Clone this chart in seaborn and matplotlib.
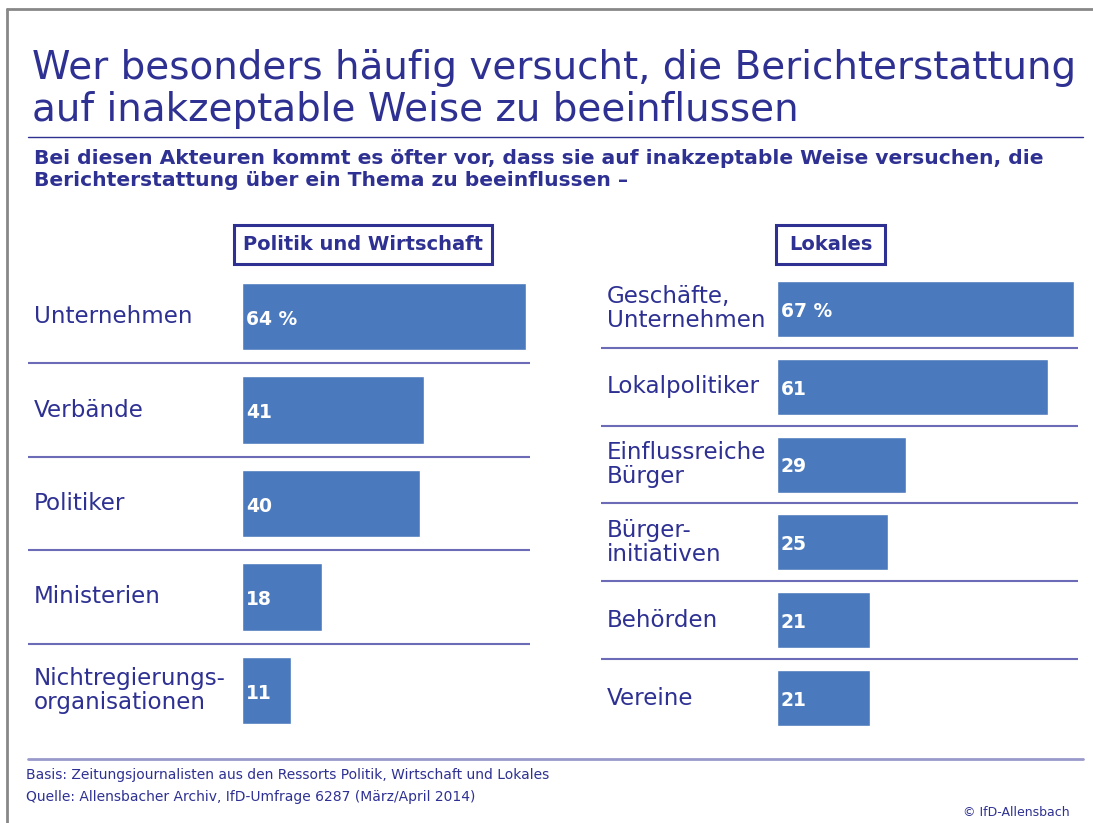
import matplotlib
matplotlib.use("Agg")
import matplotlib.pyplot as plt
import seaborn as sns
import pandas as pd
from matplotlib.patches import Rectangle
from matplotlib.lines import Line2D

# Daten
links_kat = ["Unternehmen", "Verbände", "Politiker", "Ministerien",
             "Nichtregierungs-\norganisationen"]
links_wert = [64, 41, 40, 18, 11]

rechts_kat = ["Geschäfte,\nUnternehmen", "Lokalpolitiker", "Einflussreiche\nBürger",
              "Bürger-\ninitiativen", "Behörden", "Vereine"]
rechts_wert = [67, 61, 29, 25, 21, 21]

titel = "Wer besonders häufig versucht, die Berichterstattung\nauf inakzeptable Weise zu beeinflussen"
untertitel = ("Bei diesen Akteuren kommt es öfter vor, dass sie auf inakzeptable Weise versuchen, die\n"
              "Berichterstattung über ein Thema zu beeinflussen –")
fuss1 = "Basis: Zeitungsjournalisten aus den Ressorts Politik, Wirtschaft und Lokales"
fuss2 = "Quelle: Allensbacher Archiv, IfD-Umfrage 6287 (März/April 2014)"

DUNKEL = "#2e3192"
BALKEN = "#4a79bd"
LINIE = "#6b6bb8"

sns.set_style("white")
plt.rcParams["font.family"] = ["DejaVu Sans"]

W, H = 1093, 823
fig = plt.figure(figsize=(W / 100, H / 100), dpi=100)


def fx(x):
    return x / W


def fy(y):
    return 1 - y / H


# Rahmen
fig.add_artist(Line2D([fx(7), fx(W)], [fy(9), fy(9)], color="#888888", lw=2))
fig.add_artist(Line2D([fx(7), fx(7)], [fy(9), fy(H)], color="#888888", lw=2))

fig.text(fx(32), fy(49), titel, color=DUNKEL, fontsize=28, va="top",
         linespacing=1.12)
fig.add_artist(Line2D([fx(28), fx(1083)], [fy(137), fy(137)], color=DUNKEL, lw=1))
fig.text(fx(34), fy(149), untertitel, color=DUNKEL, fontsize=14.6,
         fontweight="bold", va="top", linespacing=1.2)


def panel(kat, wert, x0, x1, start, header, hbox):
    px_per = 4.44
    ax = fig.add_axes([fx(x0), fy(737), fx(x1 - x0), (737 - 270) / H])
    df = pd.DataFrame({"Akteur": kat, "Prozent": wert})
    sns.barplot(data=df, y="Akteur", x="Prozent", orient="h", color=BALKEN,
                saturation=1, width=0.72, ax=ax)
    ax.set_xlim(-(start - x0) / px_per, (x1 - start) / px_per)
    ax.set_ylim(len(kat) - 0.5, -0.5)
    ax.axis("off")
    for i in range(len(kat) - 1):
        ax.axhline(i + 0.5, color=LINIE, lw=1.5)
    trans = ax.get_yaxis_transform()
    for i, (k, v) in enumerate(zip(kat, wert)):
        ax.text(0.012, i, k, transform=trans, color=DUNKEL, fontsize=16.6,
                va="center", ha="left", linespacing=1.05)
        lab = f"{v} %" if i == 0 else str(v)
        ax.text(0.9, i + 0.03, lab, color="white", fontsize=13.5,
                fontweight="bold", va="center", ha="left")
    # Kopf
    bx0, bx1 = hbox
    fig.add_artist(Rectangle((fx(bx0), fy(264)), fx(bx1 - bx0), (264 - 225) / H,
                             fill=False, edgecolor=DUNKEL, lw=2.2))
    fig.text(fx((bx0 + bx1) / 2), fy(244.5), header, color=DUNKEL, fontsize=14,
             fontweight="bold", ha="center", va="center")


panel(links_kat, links_wert, 28, 530, 242, "Politik und Wirtschaft", (234, 492))
panel(rechts_kat, rechts_wert, 601, 1078, 777, "Lokales", (776, 885))

# Fuß
fig.add_artist(Line2D([fx(28), fx(1083)], [fy(759), fy(759)], color="#9999cc", lw=2))
fig.text(fx(26), fy(775), fuss1, color=DUNKEL, fontsize=10, va="center")
fig.text(fx(26), fy(797), fuss2, color=DUNKEL, fontsize=10, va="center")
fig.text(fx(1070), fy(812), "© IfD-Allensbach", color=DUNKEL, fontsize=9,
         va="center", ha="right")

fig.savefig("out.png", dpi=100)
